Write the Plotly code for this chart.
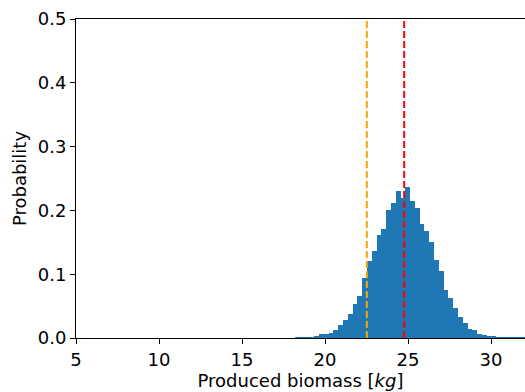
import plotly.graph_objects as go

# Histogram data (density), fixed-width bins
bin_start = 18.20
bin_width = 0.2886
density = [0.0005, 0.0005, 0.001, 0.001, 0.0016, 0.0055, 0.0055, 0.0083, 0.013, 0.021,
           0.029, 0.038, 0.054, 0.066, 0.094, 0.121, 0.136, 0.162, 0.171, 0.201,
           0.212, 0.230, 0.220, 0.236, 0.215, 0.204, 0.179, 0.168, 0.151, 0.123,
           0.105, 0.076, 0.062, 0.047, 0.033, 0.0235, 0.014, 0.013, 0.0065, 0.0048,
           0.002, 0.002, 0.001, 0.0008, 0.001, 0.0005, 0.001, 0.0005]

orange_line_x = 22.52
red_line_x = 24.77

x_ticks = [5, 10, 15, 20, 25, 30]
y_ticks = [0.0, 0.1, 0.2, 0.3, 0.4, 0.5]

centers = [bin_start + bin_width * (k + 0.5) for k in range(len(density))]

fig = go.Figure()
fig.add_trace(go.Bar(x=centers, y=density, width=[bin_width] * len(density),
                     marker=dict(color="#1f77b4", line=dict(width=0)),
                     showlegend=False))

for xv, col in [(orange_line_x, "#FFA500"), (red_line_x, "#FF0000")]:
    fig.add_shape(type="line", xref="x", yref="y", x0=xv, x1=xv, y0=0, y1=0.5,
                  line=dict(color=col, width=2, dash="7px,3px"))

font = dict(family="DejaVu Sans", size=18, color="black")
fig.update_layout(
    width=525, height=392,
    margin=dict(l=76, r=0, t=19, b=54),
    paper_bgcolor="white", plot_bgcolor="white",
    font=font,
    bargap=0,
)
fig.update_xaxes(range=[5, 5 + 449 / 16.6], tickvals=x_ticks,
                 ticktext=[str(v) for v in x_ticks],
                 showgrid=False, zeroline=False, showline=True, mirror=True,
                 linecolor="black", linewidth=1, ticks="outside", ticklen=5,
                 tickcolor="black", tickfont=font,
                 title=dict(text="Produced biomass [<i>kg</i>]", font=font, standoff=1))
fig.update_yaxes(range=[0, 0.5], tickvals=y_ticks,
                 ticktext=[f"{v:.1f}" for v in y_ticks],
                 showgrid=False, zeroline=False, showline=True, mirror=False,
                 linecolor="black", linewidth=1, ticks="outside", ticklen=5,
                 tickcolor="black", tickfont=font,
                 title=dict(text="Probability", font=font, standoff=6))

fig.write_html("out.html")
